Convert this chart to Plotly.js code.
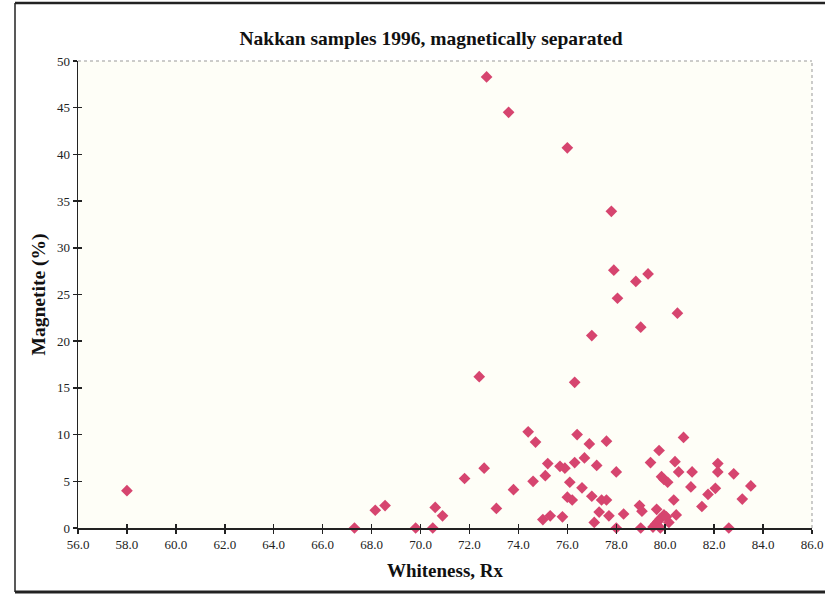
<!DOCTYPE html>
<html>
<head>
<meta charset="utf-8">
<script src="https://cdn.plot.ly/plotly-3.0.1.min.js"></script>
<style>
html,body{margin:0;padding:0;background:#ffffff;}
#chart{width:825px;height:596px;}
</style>
</head>
<body>
<div id="chart"></div>
<script>
const whiteness = [58.0, 67.3, 68.15, 68.55, 69.8, 70.5, 70.6, 70.9, 71.8, 72.4, 72.6, 72.7, 73.1, 73.6, 73.8,
  74.4, 74.6, 74.7, 75.0, 75.1, 75.2, 75.3, 75.7, 75.9, 75.8, 76.0, 76.0, 76.1, 76.2, 76.3, 76.3, 76.4,
  76.6, 76.7, 76.9, 77.0, 77.0, 77.1, 77.2, 77.3, 77.4, 77.6, 77.6, 77.7, 77.8, 77.9, 78.0, 78.0, 78.05,
  78.3, 78.8, 78.95, 79.0, 79.05, 79.0, 79.3, 79.4, 79.5, 79.6, 79.65, 79.7, 79.75, 79.8, 79.8, 79.85,
  79.95, 79.95, 80.05, 80.1, 80.15, 80.35, 80.45, 80.4, 80.5, 80.55, 80.75, 81.1, 81.05, 81.5, 81.75,
  82.05, 82.15, 82.15, 82.6, 82.8, 83.15, 83.5];
const magnetite = [4.0, 0.0, 1.9, 2.4, 0.0, 0.0, 2.2, 1.3, 5.3, 16.2, 6.4, 48.3, 2.1, 44.5, 4.1,
  10.3, 5.0, 9.2, 0.9, 5.6, 6.9, 1.3, 6.6, 6.4, 1.2, 40.7, 3.3, 4.9, 3.0, 7.0, 15.6, 10.0,
  4.3, 7.5, 9.0, 3.4, 20.6, 0.6, 6.7, 1.7, 3.0, 3.0, 9.3, 1.3, 33.9, 27.6, 6.0, 0.0, 24.6,
  1.5, 26.4, 2.4, 21.5, 1.8, 0.0, 27.2, 7.0, 0.1, 0.4, 2.0, 0.7, 8.3, 0.0, 1.0, 5.5,
  5.2, 1.4, 1.2, 4.9, 0.6, 3.0, 1.4, 7.1, 23.0, 6.0, 9.7, 6.0, 4.4, 2.3, 3.6,
  4.25, 6.9, 6.0, 0.0, 5.8, 3.1, 4.5];
const xTicks = [56, 58, 60, 62, 64, 66, 68, 70, 72, 74, 76, 78, 80, 82, 84, 86];
const yTicks = [0, 5, 10, 15, 20, 25, 30, 35, 40, 45, 50];

const serif = '"Liberation Serif", "DejaVu Serif", serif';

const trace = {
  type: 'scatter', mode: 'markers',
  x: whiteness, y: magnetite,
  marker: {symbol: 'diamond', size: 9, color: '#d6456f', line: {width: 0}},
  cliponaxis: false, hoverinfo: 'x+y'
};

const L = 78, R = 13, T = 61, B = 68;
const PW = 825 - L - R, PH = 596 - T - B;
const px = v => (v - L) / PW;
const py = v => (596 - B - v) / PH;

const layout = {
  width: 825, height: 596,
  margin: {l: L, r: R, t: T, b: B},
  paper_bgcolor: '#ffffff',
  plot_bgcolor: '#fefef7',
  showlegend: false,
  title: {text: '<b>Nakkan samples 1996, magnetically separated</b>',
          font: {family: serif, size: 19.5, color: '#111'},
          x: 431/825, xanchor: 'center', xref: 'container', y: 1 - 38/596, yref: 'container', yanchor: 'middle'},
  xaxis: {
    range: [56, 86], tickvals: xTicks, tickformat: '.1f',
    showgrid: false, zeroline: false,
    showline: true, linecolor: '#222', linewidth: 1.5,
    ticks: 'outside', ticklen: 4, tickcolor: '#222', tickwidth: 1.5,
    ticklabeloverflow: 'allow',
    tickfont: {family: serif, size: 13, color: '#222'},
    title: {text: '<b>Whiteness, Rx</b>', font: {family: serif, size: 19, color: '#111'}, standoff: 12}
  },
  yaxis: {
    range: [0, 50], tickvals: yTicks,
    showgrid: false, zeroline: false,
    showline: true, linecolor: '#222', linewidth: 1.5,
    ticks: 'outside', ticklen: 4, tickcolor: '#222', tickwidth: 1.5,
    ticklabeloverflow: 'allow',
    tickfont: {family: serif, size: 13, color: '#222'},
    title: {text: '<b>Magnetite (%)</b>', font: {family: serif, size: 19.5, color: '#111'}, standoff: 6}
  },
  xaxis2: {
    overlaying: 'x', range: [56, 86], tickvals: xTicks, showticklabels: false,
    showgrid: false, zeroline: false, showline: false,
    ticks: 'inside', ticklen: 4, tickcolor: '#222', tickwidth: 1.5
  },
  yaxis2: {
    overlaying: 'y', range: [0, 50], tickvals: yTicks, showticklabels: false,
    showgrid: false, zeroline: false, showline: false,
    ticks: 'inside', ticklen: 4, tickcolor: '#222', tickwidth: 1.5
  },
  shapes: [
    {type: 'line', xref: 'paper', yref: 'paper', x0: 0, x1: 1, y0: 1, y1: 1,
     line: {color: '#999', width: 1, dash: 'dot'}},
    {type: 'line', xref: 'paper', yref: 'paper', x0: 1, x1: 1, y0: 0, y1: 1,
     line: {color: '#999', width: 1, dash: 'dot'}},
    {type: 'line', xref: 'paper', yref: 'paper', x0: px(15), x1: px(825),
     y0: py(3), y1: py(3), line: {color: '#222', width: 2.5}},
    {type: 'line', xref: 'paper', yref: 'paper', x0: px(15), x1: px(15),
     y0: py(3), y1: py(592), line: {color: '#222', width: 1.5}},
    {type: 'line', xref: 'paper', yref: 'paper', x0: px(15), x1: px(825),
     y0: py(592), y1: py(592), line: {color: '#222', width: 3}}
  ]
};

const dummy = {type: 'scatter', mode: 'markers', x: [56], y: [0], xaxis: 'x2', yaxis: 'y2',
  marker: {opacity: 0}, hoverinfo: 'skip', showlegend: false};

Plotly.newPlot('chart', [dummy, trace], layout, {displayModeBar: false, staticPlot: true});
</script>
</body>
</html>
